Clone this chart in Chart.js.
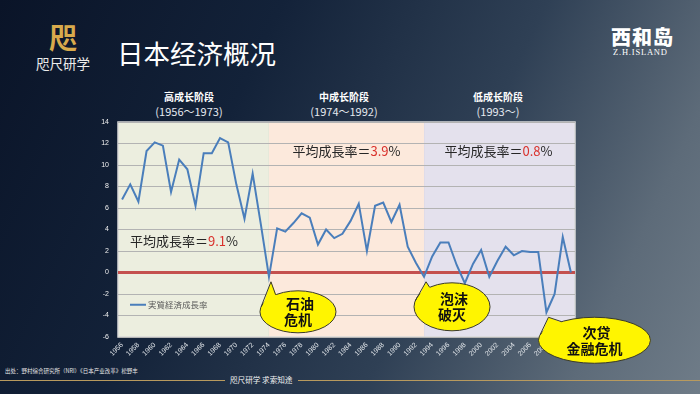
<!DOCTYPE html>
<html>
<head>
<meta charset="utf-8">
<script src="https://cdn.jsdelivr.net/npm/chart.js@4.4.1/dist/chart.umd.min.js"></script>
<style>
  html, body { margin: 0; padding: 0; }
  body { width: 700px; height: 394px; overflow: hidden; }
  #page {
    position: relative; width: 700px; height: 394px; overflow: hidden;
    background: linear-gradient(115deg, #0a1428 0%, #132239 32%, #2f4055 62%, #5d6b79 85%, #6f7c88 100%);
    font-family: "Noto Sans CJK SC", "Noto Sans", sans-serif; color: #fff;
  }
  #chart { position: absolute; left: 0; top: 0; }
  .abs { position: absolute; white-space: nowrap; }
  .phase { text-align: center; width: 120px; line-height: 12px; }
  .phase b { font-size: 10px; font-weight: 700; display: block; }
  .phase span { font-size: 11px; color: #e4e8ee; }
</style>
</head>
<body>
<div id="page">
  <div class="abs" style="left:49px;top:20px;font-size:28px;color:#d8aa4c;font-weight:700;line-height:34px;">咫</div>
  <div class="abs" style="left:36px;top:54px;font-size:13.5px;color:#ececec;line-height:18px;">咫尺研学</div>
  <div class="abs" style="left:117px;top:36px;font-size:26.5px;line-height:34px;">日本经济概况</div>

  <div class="abs" style="left:611px;top:23px;font-size:20px;font-weight:900;line-height:28px;letter-spacing:1px;">西和岛</div>
  <div class="abs" style="left:613px;top:47px;font-family:'Liberation Serif',serif;font-size:8.5px;letter-spacing:0.8px;line-height:10px;">Z.H.ISLAND</div>

  <div class="abs phase" style="left:129px;top:91px;"><b>高成长阶段</b><span>(1956～1973)</span></div>
  <div class="abs phase" style="left:284px;top:91px;"><b>中成长阶段</b><span>(1974～1992)</span></div>
  <div class="abs phase" style="left:438px;top:91px;"><b>低成长阶段</b><span>(1993～)</span></div>

  <div class="abs" style="left:5px;top:368px;font-size:5.5px;color:#e6e6e6;line-height:7px;">出处：野村综合研究所（NRI）《日本产业改革》松野丰</div>
  <div class="abs" style="left:0;top:379.5px;width:225px;height:1.5px;background:#b89a5e;"></div>
  <div class="abs" style="left:298px;top:379.5px;width:402px;height:1.5px;background:#b89a5e;"></div>
  <div class="abs" style="left:230px;top:374px;font-size:7.6px;color:#f2f2f2;line-height:12px;">咫尺研学 求索知途</div>

  <canvas id="chart" width="700" height="394"></canvas>
</div>
<script>
// 年份（财年）
var years = [
  "1956","1957","1958","1959","1960","1961","1962","1963","1964","1965",
  "1966","1967","1968","1969","1970","1971","1972","1973","1974","1975",
  "1976","1977","1978","1979","1980","1981","1982","1983","1984","1985",
  "1986","1987","1988","1989","1990","1991","1992","1993","1994","1995",
  "1996","1997","1998","1999","2000","2001","2002","2003","2004","2005",
  "2006","2007","2008","2009","2010","2011"
];
// 实质经济成长率（%）
var growth = [
  6.8, 8.2, 6.6, 11.3, 12.1, 11.8, 7.5, 10.5, 9.6, 6.2,
  11.1, 11.1, 12.5, 12.1, 8.2, 5.0, 9.2, 4.5, -0.4, 4.1,
  3.8, 4.6, 5.5, 5.1, 2.6, 4.0, 3.2, 3.6, 4.8, 6.4,
  2.0, 6.2, 6.5, 4.7, 6.3, 2.4, 0.9, -0.4, 1.5, 2.8,
  2.8, 0.7, -1.0, 0.8, 2.1, -0.4, 1.1, 2.4, 1.6, 2.0,
  1.9, 1.9, -3.7, -2.0, 3.3, 0.0
];
var seriesName = "実質経済成長率";

// 三个阶段：起始年份、底色、平均成长率
var phaseStart = ["1956", "1974", "1993"];
var phaseColor = ["#eceedf", "#fce9dc", "#e4e1ed"];
var phaseAvg = ["9.1", "3.9", "0.8"];

// 事件标注
var eventYear = ["1974", "1993", "2008"];
var eventText = [["石油", "危机"], ["泡沫", "破灭"], ["次贷", "金融危机"]];

var CJK = '"Noto Sans CJK JP", "Noto Sans CJK SC", sans-serif';

function bubble(ctx, tipX, tipY, cx, cy, rx, ry, lines) {
  ctx.save();
  ctx.fillStyle = "#fff500";
  ctx.strokeStyle = "#3a3a2a";
  ctx.lineWidth = 1;
  ctx.beginPath();
  ctx.ellipse(cx, cy, rx, ry, 0, 0, Math.PI * 2);
  ctx.fill();
  ctx.stroke();
  // 指向数据点的尖角
  var a1 = Math.PI * 1.08, a2 = Math.PI * 1.3;
  var p1x = cx + rx * Math.cos(a1), p1y = cy + ry * Math.sin(a1);
  var p2x = cx + rx * Math.cos(a2), p2y = cy + ry * Math.sin(a2);
  ctx.beginPath();
  ctx.moveTo(p1x + 1, p1y + 1);
  ctx.lineTo(tipX, tipY);
  ctx.lineTo(p2x + 1, p2y + 1);
  ctx.closePath();
  ctx.fill();
  ctx.beginPath();
  ctx.moveTo(p1x, p1y); ctx.lineTo(tipX, tipY); ctx.lineTo(p2x, p2y);
  ctx.stroke();
  ctx.fillStyle = "#111";
  ctx.font = "bold 14px " + CJK;
  ctx.textAlign = "center";
  ctx.textBaseline = "middle";
  ctx.fillText(lines[0], cx + 2, cy - 8);
  ctx.fillText(lines[1], cx, cy + 8);
  ctx.restore();
}

var decor = {
  id: "decor",
  beforeDraw: function (chart) {
    var ctx = chart.ctx, a = chart.chartArea, x = chart.scales.x;
    var edges = phaseStart.map(function (y, i) { return i === 0 ? a.left : x.getPixelForValue(years.indexOf(y)); });
    edges.push(a.right);
    ctx.save();
    for (var i = 0; i < phaseStart.length; i++) {
      ctx.fillStyle = phaseColor[i];
      ctx.fillRect(edges[i], a.top, edges[i + 1] - edges[i], a.bottom - a.top);
    }
    ctx.strokeStyle = "#d9d9d9";
    ctx.lineWidth = 1.5;
    ctx.strokeRect(a.left, a.top, a.right - a.left, a.bottom - a.top);
    ctx.restore();
  },
  afterDatasetsDraw: function (chart) {
    var ctx = chart.ctx, a = chart.chartArea, x = chart.scales.x, y = chart.scales.y;
    ctx.save();
    // 图例
    var ly = y.getPixelForValue(-3);
    ctx.strokeStyle = "#4a7ebb"; ctx.lineWidth = 2;
    ctx.beginPath(); ctx.moveTo(a.left + 12, ly); ctx.lineTo(a.left + 28, ly); ctx.stroke();
    ctx.fillStyle = "#5a5a5a"; ctx.font = "8.5px " + CJK; ctx.textBaseline = "middle";
    ctx.fillText(seriesName, a.left + 30, ly);
    // 平均成长率
    var pos = [[a.left + 12, y.getPixelForValue(2.9)],
               [x.getPixelForValue(21) - 1, y.getPixelForValue(11.3)],
               [x.getPixelForValue(40) - 4, y.getPixelForValue(11.3)]];
    ctx.font = "13px " + CJK;
    for (var i = 0; i < phaseAvg.length; i++) {
      var px = pos[i][0], py = pos[i][1];
      var head = "平均成長率＝";
      ctx.fillStyle = "#262626"; ctx.fillText(head, px, py);
      px += ctx.measureText(head).width;
      ctx.fillStyle = "#d9312c"; ctx.fillText(phaseAvg[i], px, py);
      px += ctx.measureText(phaseAvg[i]).width;
      ctx.fillStyle = "#262626"; ctx.fillText("%", px, py);
    }
    ctx.restore();
  },
  afterDraw: function (chart) {
    var ctx = chart.ctx, x = chart.scales.x, y = chart.scales.y;
    var offs = [[27, 30, 38, 21], [26, 25, 38, 24], [46, 23, 56, 23]];
    for (var i = 0; i < eventYear.length; i++) {
      var k = years.indexOf(eventYear[i]);
      var tx = x.getPixelForValue(k) + 2, ty = y.getPixelForValue(growth[k]) + 5;
      bubble(ctx, tx, ty, tx + offs[i][0], ty + offs[i][1], offs[i][2], offs[i][3], eventText[i]);
    }
  }
};

new Chart(document.getElementById("chart"), {
  type: "line",
  data: {
    labels: years,
    datasets: [{
      label: seriesName, data: growth,
      borderColor: "#4a7ebb", borderWidth: 2, pointRadius: 0, tension: 0, fill: false
    }]
  },
  options: {
    responsive: false, animation: false,
    layout: { padding: { left: 0, top: 122, right: 125, bottom: 0 } },
    plugins: { legend: { display: false }, tooltip: { enabled: false } },
    scales: {
      x: {
        offset: true,
        grid: { display: false, drawTicks: false },
        border: { display: false },
        afterFit: function (s) { s.height = 57; },
        ticks: {
          autoSkip: false, minRotation: 45, maxRotation: 45, padding: 4,
          color: "#e2e6ea", font: { family: "Liberation Sans", size: 7 },
          callback: function (v, i) { return i % 2 === 0 ? years[i] : null; }
        }
      },
      y: {
        min: -6, max: 14,
        afterFit: function (s) { s.width = 118; },
        border: { display: false },
        grid: {
          drawTicks: false,
          color: function (c) { return c.tick && c.tick.value === 0 ? "#c4504e" : "#b3b3b3"; },
          lineWidth: function (c) { return c.tick && c.tick.value === 0 ? 3 : 1; }
        },
        ticks: { stepSize: 2, padding: 9, color: "#f0f0f0", font: { family: "Liberation Sans", size: 7 } }
      }
    }
  },
  plugins: [decor]
});
</script>
</body>
</html>
